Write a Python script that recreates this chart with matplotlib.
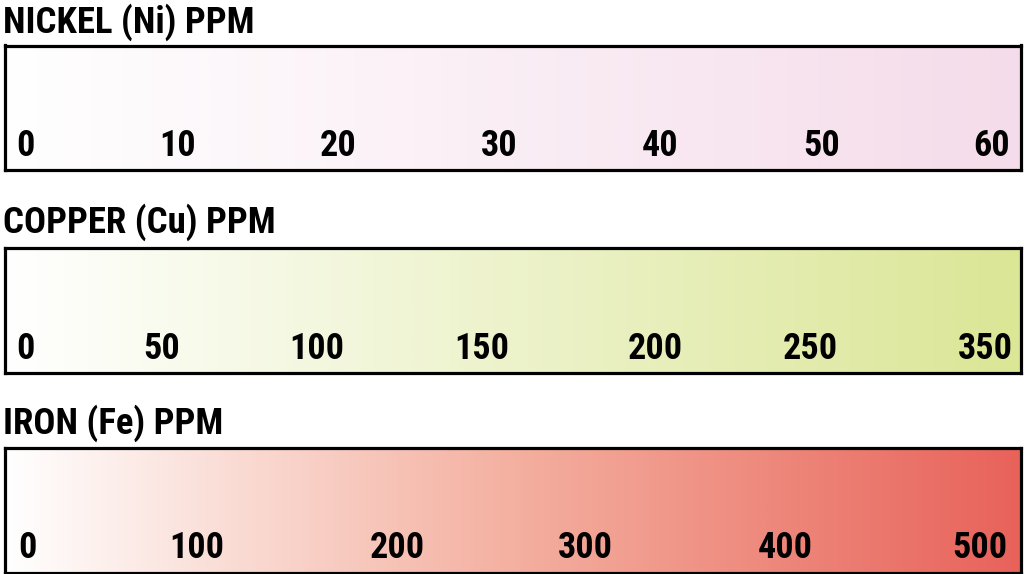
import numpy as np
import matplotlib
matplotlib.use("Agg")
import matplotlib.pyplot as plt
from matplotlib.colors import LinearSegmentedColormap

plt.rcParams['font.family'] = ['Roboto Condensed', 'DejaVu Sans']

# scale titles, tick labels and gradient colours of each bar
titles = ["NICKEL (Ni) PPM", "COPPER (Cu) PPM", "IRON (Fe) PPM"]
nickel_labels = ["0", "10", "20", "30", "40", "50", "60"]
copper_labels = ["0", "50", "100", "150", "200", "250", "350"]
iron_labels = ["0", "100", "200", "300", "400", "500"]
nickel_colors = ["#ffffff", "#f5dcea"]
copper_colors = ["#ffffff", "#dbe696"]
iron_colors = ["#ffffff", "#f4b0a0", "#e8625a"]

# layout (figure pixels, from top-left)
nickel_x = [25, 178, 338, 499, 660, 822, 992]
copper_x = [25, 162, 317, 482, 655, 810, 985]
iron_x = [27, 197, 397, 585, 785, 980]
box_tops = [45.5, 247.5, 447.5]
box_h = 125
title_base = [33, 233, 434]

W, H = 1025, 574
fig = plt.figure(figsize=(W / 100, H / 100), dpi=100)

bars = [
    (titles[0], nickel_labels, nickel_x, nickel_colors),
    (titles[1], copper_labels, copper_x, copper_colors),
    (titles[2], iron_labels, iron_x, iron_colors),
]

left, right = 4.5, 1020.5
grad = np.linspace(0, 1, 512).reshape(1, -1)

for i, (title, labels, xs, cols) in enumerate(bars):
    top = box_tops[i]
    bottom = top + box_h
    ax = fig.add_axes([left / W, 1 - bottom / H, (right - left) / W, box_h / H])
    ax.set_xlim(left, right)
    ax.set_ylim(bottom, top)
    cmap = LinearSegmentedColormap.from_list("g%d" % i, cols)
    ax.imshow(grad, cmap=cmap, aspect="auto", extent=(left, right, bottom, top),
              interpolation="bilinear")
    for lab, x in zip(labels, xs):
        ax.text(x, bottom - 14, lab, ha="center", va="baseline",
                fontsize=26, fontweight="bold", color="black")
    ax.set_xticks([])
    ax.set_yticks([])
    for sp in ax.spines.values():
        sp.set_linewidth(2.3)
        sp.set_color("black")
    fig.text(3 / W, 1 - title_base[i] / H, title, ha="left", va="baseline",
             fontsize=26.5, fontweight="bold", color="black")

fig.savefig("out.png", dpi=100)
